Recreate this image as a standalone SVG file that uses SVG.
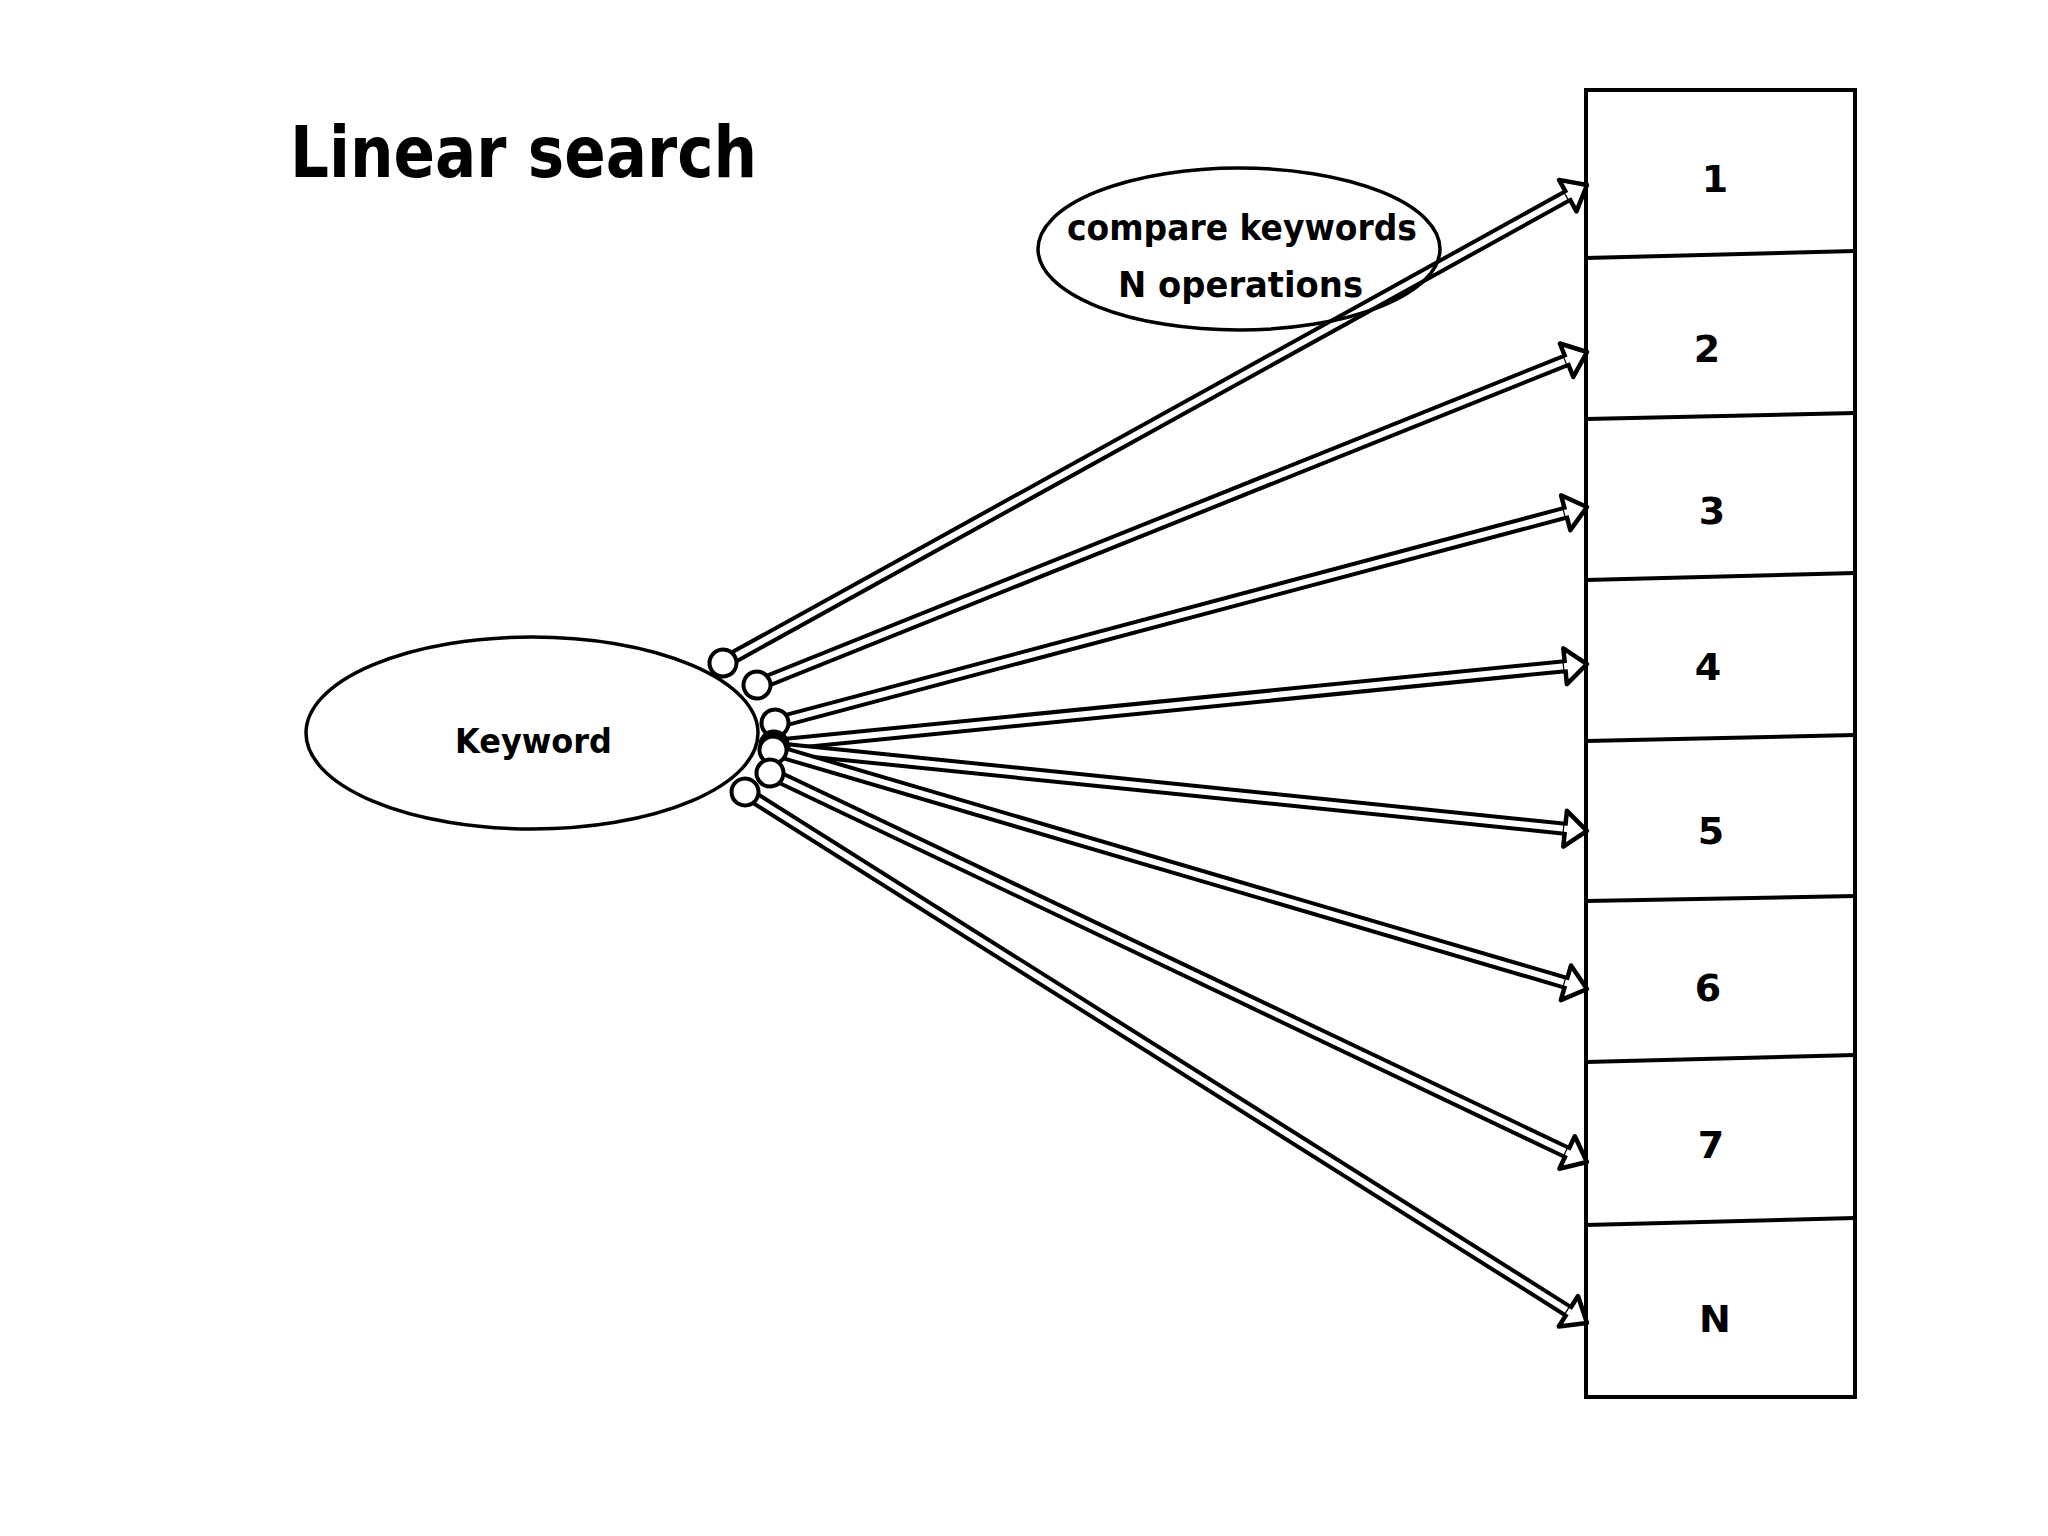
<svg xmlns="http://www.w3.org/2000/svg" width="2048" height="1536" viewBox="0 0 2048 1536">
<style>
text{font-family:"Comic Sans MS","DejaVu Sans",sans-serif;font-weight:bold;fill:#000}
.shape{stroke:#000;stroke-width:3.5}
.outer{fill:none;stroke:#000;stroke-width:14}
.inner{fill:none;stroke:#fff;stroke-width:6;marker-start:url(#dot);marker-end:url(#head)}
.cell{fill:none;stroke:#000;stroke-width:4}
.num{font-size:38px;text-anchor:middle}
</style>
<defs>
<marker id="dot" markerUnits="userSpaceOnUse" markerWidth="40" markerHeight="40" refX="0" refY="0" viewBox="-20 -20 40 40" orient="auto" overflow="visible">
<circle cx="0" cy="0" r="13.5" fill="#fff" stroke="#000" stroke-width="4"/>
</marker>
<marker id="head" markerUnits="userSpaceOnUse" markerWidth="60" markerHeight="60" refX="0" refY="0" viewBox="-30 -30 60 60" orient="auto" overflow="visible">
<polygon points="0,-18 22,0 0,18" fill="#fff" stroke="#000" stroke-width="4.5" stroke-linejoin="round"/>
<rect x="-1" y="-3.1" width="4.5" height="6.2" fill="#fff"/>
</marker>
</defs>
<rect width="2048" height="1536" fill="#fff"/>
<text x="290" y="177" font-size="72" textLength="467" lengthAdjust="spacingAndGlyphs">Linear search</text>
<g id="keyword">
<ellipse class="shape" cx="532" cy="733" rx="226" ry="96" fill="#fff"/>
<text x="455" y="753" font-size="34" textLength="157" lengthAdjust="spacingAndGlyphs">Keyword</text>
</g>
<g id="array">
<rect class="cell" x="1586" y="90" width="269" height="1307"/>
<line class="cell" x1="1586" y1="258" x2="1855" y2="251"/>
<line class="cell" x1="1586" y1="419" x2="1855" y2="413"/>
<line class="cell" x1="1586" y1="580" x2="1855" y2="573"/>
<line class="cell" x1="1586" y1="741" x2="1855" y2="735"/>
<line class="cell" x1="1586" y1="901" x2="1855" y2="896"/>
<line class="cell" x1="1586" y1="1062" x2="1855" y2="1055"/>
<line class="cell" x1="1586" y1="1225" x2="1855" y2="1218"/>
<text class="num" x="1715" y="192">1</text>
<text class="num" x="1707" y="362">2</text>
<text class="num" x="1712" y="524">3</text>
<text class="num" x="1708" y="680">4</text>
<text class="num" x="1711" y="844">5</text>
<text class="num" x="1708" y="1001">6</text>
<text class="num" x="1711" y="1158">7</text>
<text class="num" x="1715" y="1332">N</text>
</g>
<g id="connectors">
<path class="outer" d="M723,663 L1567.75,195.65"/><path class="inner" d="M723,663 L1567.75,195.65"/>
<path class="outer" d="M757,685 L1566.6,360.2"/><path class="inner" d="M757,685 L1566.6,360.2"/>
<path class="outer" d="M775,723 L1565.7,512.7"/><path class="inner" d="M775,723 L1565.7,512.7"/>
<path class="outer" d="M774,745 L1565.1,666.2"/><path class="inner" d="M774,745 L1565.1,666.2"/>
<path class="outer" d="M775,748 L1565.1,828.7"/><path class="inner" d="M775,748 L1565.1,828.7"/>
<path class="outer" d="M773,750 L1565.9,982.8"/><path class="inner" d="M773,750 L1565.9,982.8"/>
<path class="outer" d="M770,773 L1567.1,1152.5"/><path class="inner" d="M770,773 L1567.1,1152.5"/>
<path class="outer" d="M745,792 L1568.4,1311.3"/><path class="inner" d="M745,792 L1568.4,1311.3"/>
</g>
<g id="compare">
<ellipse class="shape" cx="1239" cy="249" rx="201" ry="81" fill="none"/>
<text x="1067" y="240" font-size="36" textLength="350" lengthAdjust="spacingAndGlyphs">compare keywords</text>
<text x="1118" y="297" font-size="36" textLength="245" lengthAdjust="spacingAndGlyphs">N operations</text>
</g>
</svg>
